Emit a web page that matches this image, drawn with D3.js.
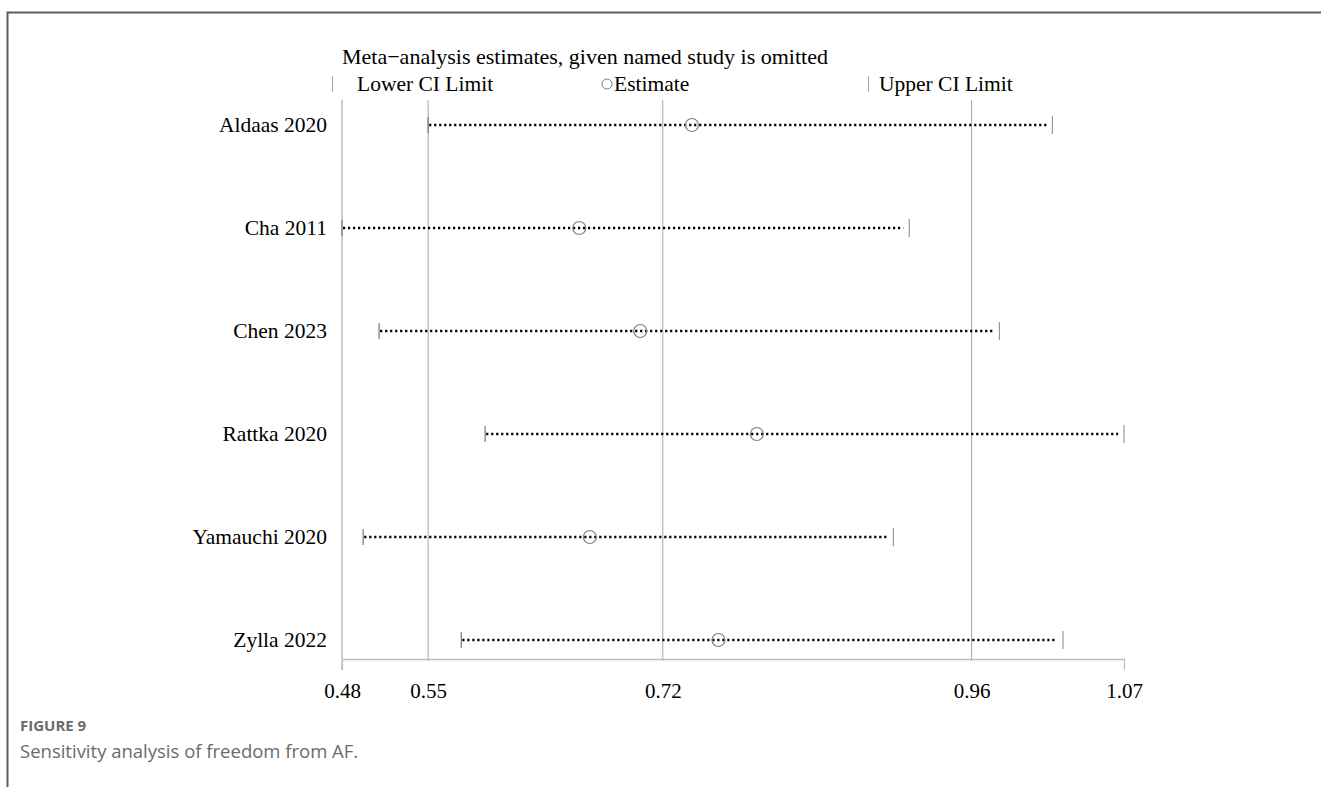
<!DOCTYPE html>
<html>
<head>
<meta charset="utf-8">
<script src="https://cdn.jsdelivr.net/npm/d3@7"></script>
<style>
  body { margin: 0; background: #fff; }
  svg { display: block; }
</style>
</head>
<body>
<svg id="chart" width="1321" height="787"></svg>
<script>
// DATA
// --------------------------------------
var studies = ['Aldaas 2020', 'Cha 2011', 'Chen 2023', 'Rattka 2020', 'Yamauchi 2020', 'Zylla 2022'];
var lowerCI = [0.545, 0.480, 0.508, 0.588, 0.496, 0.570];
var estimates = [0.744, 0.659, 0.705, 0.793, 0.667, 0.764];
var upperCI = [1.016, 0.908, 0.976, 1.070, 0.896, 1.024];

var tickValues = [0.48, 0.545, 0.722, 0.955, 1.07];
var tickLabels = ['0.48', '0.55', '0.72', '0.96', '1.07'];
// overall lower / estimate / upper get a reference line
var refLines = [0.545, 0.722, 0.955];

// --------------------------------------
// LAYOUT
// --------------------------------------
var CONFIG = {
    left: 342,
    right: 1124,
    top: 100,
    axisY: 659,
    font: '"Liberation Serif", "Times New Roman", serif'
};

var svg = d3.select('#chart');

var x = d3.scaleLinear()
    .domain([0.48, 1.07])
    .range([CONFIG.left, CONFIG.right]);

var y = d3.scalePoint()
    .domain(studies)
    .range([125, 640]);

// figure frame
svg.append('path')
    .attr('d', 'M7.5,787 L7.5,12.5 L1321,12.5')
    .attr('fill', 'none')
    .attr('stroke', '#5e5e5e')
    .attr('stroke-width', 2);

// reference lines
svg.append('g').selectAll('line')
    .data(refLines)
    .enter().append('line')
    .attr('x1', function(d){ return x(d); })
    .attr('x2', function(d){ return x(d); })
    .attr('y1', CONFIG.top)
    .attr('y2', CONFIG.axisY)
    .attr('stroke', '#a8a8a8')
    .attr('stroke-width', 1);

// y axis line
svg.append('line')
    .attr('x1', x(0.48)).attr('x2', x(0.48))
    .attr('y1', CONFIG.top).attr('y2', CONFIG.axisY + 11)
    .attr('stroke', '#bdbdbd')
    .attr('stroke-width', 1.5);

// x axis
var xAxis = d3.axisBottom(x)
    .tickValues(tickValues)
    .tickFormat(function(d, i){ return tickLabels[i]; })
    .tickSize(11)
    .tickSizeOuter(0);

var gx = svg.append('g')
    .attr('transform', 'translate(0,' + CONFIG.axisY + ')')
    .call(xAxis);
gx.select('.domain').attr('stroke', '#bdbdbd').attr('stroke-width', 1.5);
gx.selectAll('.tick line').attr('stroke', '#bdbdbd').attr('stroke-width', 1.2)
    .attr('y2', function(d, i){ return (i === 0 || i === tickValues.length - 1) ? 11 : 2; });
gx.selectAll('.tick text')
    .attr('y', 24)
    .attr('fill', '#000')
    .style('font-family', CONFIG.font)
    .style('font-size', '21px');

// rows
var rows = svg.append('g').selectAll('g')
    .data(studies)
    .enter().append('g')
    .attr('transform', function(d){ return 'translate(0,' + y(d) + ')'; });

rows.append('text')
    .attr('x', 327)
    .attr('y', 7)
    .attr('text-anchor', 'end')
    .style('font-family', CONFIG.font)
    .style('font-size', '21.5px')
    .text(function(d){ return d; });

// dotted CI line
rows.append('line')
    .attr('x1', function(d, i){ return x(lowerCI[i]) + 1; })
    .attr('x2', function(d, i){ return x(upperCI[i]) - 6; })
    .attr('stroke', '#000')
    .attr('stroke-width', 2.4)
    .attr('stroke-dasharray', '2.2,2.8');

// lower tick
rows.append('line')
    .attr('x1', function(d, i){ return x(lowerCI[i]); })
    .attr('x2', function(d, i){ return x(lowerCI[i]); })
    .attr('y1', -8).attr('y2', 8)
    .attr('stroke', '#777')
    .attr('stroke-width', 1.2);

// upper tick
rows.append('line')
    .attr('x1', function(d, i){ return x(upperCI[i]); })
    .attr('x2', function(d, i){ return x(upperCI[i]); })
    .attr('y1', -9).attr('y2', 9)
    .attr('stroke', '#999')
    .attr('stroke-width', 1.2);

// estimate
rows.append('circle')
    .attr('cx', function(d, i){ return x(estimates[i]); })
    .attr('r', 6.5)
    .attr('fill', 'none')
    .attr('stroke', '#808080')
    .attr('stroke-width', 1.2);

// --------------------------------------
// TITLE / LEGEND
// --------------------------------------
svg.append('text')
    .attr('x', 342).attr('y', 64)
    .style('font-family', CONFIG.font)
    .style('font-size', '22px')
    .text('Meta\u2212analysis estimates, given named study is omitted');

var legend = svg.append('g').attr('transform', 'translate(0,84)');
legend.append('line')
    .attr('x1', 332.5).attr('x2', 332.5).attr('y1', -8).attr('y2', 8)
    .attr('stroke', '#aaa');
legend.append('text')
    .attr('x', 357).attr('y', 7)
    .style('font-family', CONFIG.font).style('font-size', '21.5px')
    .text('Lower CI Limit');
legend.append('circle')
    .attr('cx', 607).attr('cy', 0).attr('r', 5)
    .attr('fill', 'none').attr('stroke', '#808080').attr('stroke-width', 1);
legend.append('text')
    .attr('x', 614).attr('y', 7)
    .style('font-family', CONFIG.font).style('font-size', '21.5px')
    .text('Estimate');
legend.append('line')
    .attr('x1', 868.5).attr('x2', 868.5).attr('y1', -8).attr('y2', 8)
    .attr('stroke', '#aaa');
legend.append('text')
    .attr('x', 879).attr('y', 7)
    .style('font-family', CONFIG.font).style('font-size', '21.5px')
    .text('Upper CI Limit');

// caption
svg.append('text')
    .attr('x', 20).attr('y', 731)
    .attr('fill', '#6b6b6b')
    .style('font-family', '"Open Sans", sans-serif')
    .style('font-size', '15px')
    .style('font-weight', 'bold')
    .text('FIGURE 9');
svg.append('text')
    .attr('x', 20).attr('y', 758)
    .attr('fill', '#6b6b6b')
    .style('font-family', '"Open Sans", sans-serif')
    .style('font-size', '18.5px')
    .text('Sensitivity analysis of freedom from AF.');
</script>
</body>
</html>
